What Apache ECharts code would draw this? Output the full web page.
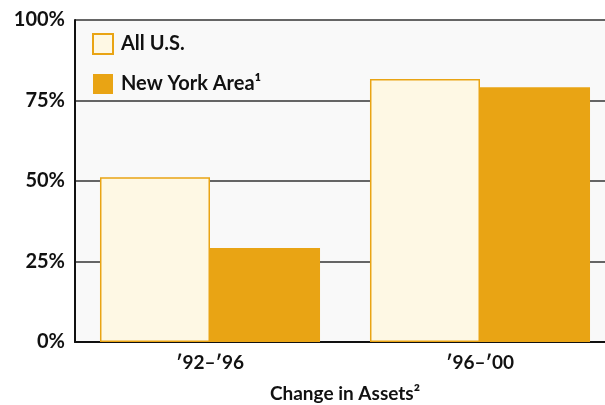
<!DOCTYPE html>
<html>
<head>
<meta charset="utf-8">
<script src="https://cdn.jsdelivr.net/npm/echarts@6/dist/echarts.min.js"></script>
<style>html,body{margin:0;padding:0;background:#fff;}#c{width:605px;height:405px;}</style>
</head>
<body>
<div id="c"></div>
<script>
const categories = ['\u203292\u2013\u203296', '\u203296\u2013\u203200'];
const seriesNames = ['All U.S.', 'New York Area\u00b9'];
const allUS = [51.2, 81.7];
const newYork = [29.2, 79.1];
const yTicks = [0, 25, 50, 75, 100];
const xAxisName = 'Change in Assets\u00b2';

const FONT = 'Lato';
const chart = echarts.init(document.getElementById('c'), null, {renderer: 'canvas'});
chart.setOption({
  animation: false,
  backgroundColor: '#ffffff',
  grid: {
    left: 75, top: 20, right: -10, bottom: 63,
    outerBoundsMode: 'none', containLabel: false,
    show: true, backgroundColor: '#f9f9f9', borderWidth: 0
  },
  legend: {
    orient: 'vertical', left: 87, top: 28,
    itemWidth: 20, itemHeight: 20, itemGap: 19,
    icon: 'rect',
    data: seriesNames,
    textStyle: {fontFamily: FONT, fontWeight: 'bold', fontSize: 20, color: '#111', padding: [0, 0, 0, 3]}
  },
  xAxis: {
    type: 'category', data: categories,
    name: xAxisName, nameLocation: 'middle', nameGap: 42,
    nameTextStyle: {fontFamily: FONT, fontWeight: 'bold', fontSize: 19, color: '#111'},
    axisLine: {lineStyle: {color: '#111', width: 2}},
    axisTick: {show: false},
    axisLabel: {fontFamily: FONT, fontWeight: 'bold', fontSize: 19, color: '#111', margin: 11}
  },
  yAxis: {
    type: 'value', min: yTicks[0], max: yTicks[yTicks.length - 1], interval: 25,
    axisLine: {show: true, lineStyle: {color: '#111', width: 2}},
    axisTick: {show: false},
    axisLabel: {fontFamily: FONT, fontWeight: 'bold', fontSize: 20, color: '#111', margin: 10,
      formatter: v => v + '%'},
    splitLine: {lineStyle: {color: '#333', width: 1.5}}
  },
  series: [
    {
      name: seriesNames[0], type: 'bar', data: allUS,
      barGap: '0%', barCategoryGap: '18.5%',
      itemStyle: {color: '#fef8e4', borderColor: '#e9a414', borderWidth: 1.5}
    },
    {
      name: seriesNames[1], type: 'bar', data: newYork,
      itemStyle: {color: '#e9a414'}
    }
  ]
});
</script>
</body>
</html>
